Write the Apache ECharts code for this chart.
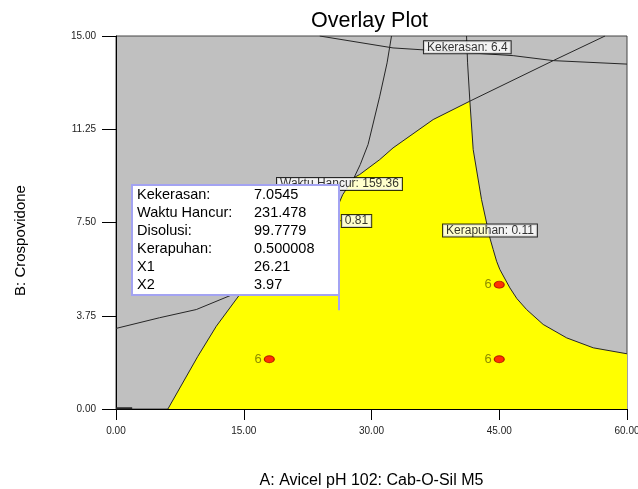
<!DOCTYPE html>
<html>
<head>
<meta charset="utf-8">
<script src="https://cdn.jsdelivr.net/npm/echarts@6/dist/echarts.min.js"></script>
<style>
  html, body { margin: 0; padding: 0; background: #fff; }
  #chart { width: 638px; height: 489px; }
</style>
</head>
<body>
<div id="chart"></div>
<script>
const FONT = "'Liberation Sans', Arial, sans-serif";

// Axis ranges and ticks (A: Avicel pH 102 : Cab-O-Sil M5, B: Crospovidone)
const xTicks = [0, 15, 30, 45, 60];
const yTicks = [0, 3.75, 7.5, 11.25, 15];

// Contour lines, points given as [A, B]
const kekerasanLine = [
  [23.92, 15.0], [32.53, 14.52], [46.64, 14.21], [51.34, 14.01], [60, 13.87]
];
const kerapuhanLine = [
  [41.16, 15.0], [41.28, 13.92], [41.55, 12.38], [41.94, 10.43], [42.92, 8.42],
  [43.90, 6.88], [44.29, 6.41], [44.69, 5.94], [45.07, 5.61], [46.25, 4.87],
  [47.07, 4.44], [48.21, 4.00], [50.16, 3.40], [52.92, 2.86], [56.04, 2.46], [60, 2.22]
];
const upperBoundLine = [
  [57.42, 15.0], [51.34, 14.01], [41.55, 12.38], [37.24, 11.64], [32.53, 10.50],
  [30.97, 10.03], [28.62, 9.43], [27.96, 9.31]
];
const waktuHancurLine = [
  [32.35, 15.0], [31.83, 13.92], [30.97, 12.58], [29.60, 10.64], [28.68, 9.83],
  [27.96, 9.31], [26.62, 8.62], [26.27, 8.34], [23.92, 7.42], [20.39, 6.21],
  [16.87, 5.29], [14.52, 4.60], [11.78, 3.33], [9.61, 2.12], [6.09, 0]
];
const lowerLeftLine = [
  [0, 3.24], [5.11, 3.67], [9.43, 4.00], [13.54, 4.58], [20.39, 5.81], [26.39, 7.58]
];
const cornerLine = [[0, 0.03], [1.9, 0.03]];

// Region where all responses meet their criteria
const feasibleRegion = [
  [6.09, 0], [60, 0], [60, 2.22], [56.04, 2.46], [52.92, 2.86], [50.16, 3.40],
  [48.21, 4.00], [47.07, 4.44], [46.25, 4.87], [45.07, 5.61], [44.69, 5.94],
  [44.29, 6.41], [43.90, 6.88], [42.92, 8.42], [41.94, 10.43], [41.55, 12.38],
  [37.24, 11.64], [32.53, 10.50], [30.97, 10.03], [28.62, 9.43], [27.96, 9.31],
  [26.62, 8.62], [26.27, 8.34], [23.92, 7.42], [20.39, 6.21], [16.87, 5.29],
  [14.52, 4.60], [11.78, 3.33], [9.61, 2.12]
];

// Contour labels and where they sit on their lines
const contourLabelText = ['Kekerasan: 6.4', 'Waktu Hancur: 159.36', '0.81', 'Kerapuhan: 0.11'];
const contourLabelAt = [[41.25, 14.55], [26.24, 9.05], [28.24, 7.56], [43.91, 7.18]];

// Design points and their replicate counts
const designPoints = [[18, 2], [45, 2], [45, 5]];
const designCounts = [6, 6, 6];

// Flag at the selected optimum
const flagNames = ['Kekerasan:', 'Waktu Hancur:', 'Disolusi:', 'Kerapuhan:', 'X1', 'X2'];
const flagValues = ['7.0545', '231.478', '99.7779', '0.500008', '26.21', '3.97'];
const flagPoint = [26.21, 3.97];

const fmt2 = v => Number(v).toFixed(2);

function contour(data, width) {
  return {
    type: 'line', data: data, symbol: 'none', z: 3, silent: true,
    lineStyle: { color: '#262626', width: width || 1 }
  };
}

const chart = echarts.init(document.getElementById('chart'), null, { renderer: 'canvas' });

chart.setOption({
  animation: false,
  backgroundColor: '#ffffff',
  textStyle: { fontFamily: FONT },
  title: {
    text: 'Overlay Plot', left: 306, top: 5,
    textStyle: { fontSize: 21.5, fontWeight: 'normal', color: '#000', fontFamily: FONT }
  },
  grid: {
    left: 116, right: 11, top: 36, bottom: 80,
    outerBoundsMode: 'none', containLabel: false,
    show: true, backgroundColor: '#c0c0c0', borderColor: '#444', borderWidth: 1
  },
  xAxis: {
    type: 'value', min: xTicks[0], max: xTicks[xTicks.length - 1], interval: xTicks[1] - xTicks[0],
    splitLine: { show: false },
    axisLine: { lineStyle: { color: '#000', width: 1 } },
    axisTick: { length: 11, lineStyle: { color: '#000' } },
    axisLabel: { formatter: fmt2, color: '#222', fontSize: 10, margin: 17, fontFamily: FONT },
    name: 'A: Avicel pH 102: Cab-O-Sil M5', nameLocation: 'middle', nameGap: 64,
    nameTextStyle: { fontSize: 16, color: '#000', fontFamily: FONT }
  },
  yAxis: {
    type: 'value', min: yTicks[0], max: yTicks[yTicks.length - 1], interval: yTicks[1] - yTicks[0],
    splitLine: { show: false },
    axisLine: { lineStyle: { color: '#000', width: 1 } },
    axisTick: { length: 14, lineStyle: { color: '#000' } },
    axisLabel: { formatter: fmt2, color: '#222', fontSize: 10, margin: 20, fontFamily: FONT },
    name: 'B: Crospovidone', nameLocation: 'middle', nameGap: 88,
    nameTextStyle: { fontSize: 15, color: '#000', fontFamily: FONT, padding: [0, 36, 0, 0] }
  },
  series: [
    {
      // yellow feasible region
      type: 'custom', z: 1, silent: true, clip: true,
      data: [feasibleRegion[0]],
      renderItem: function (params, api) {
        const pts = feasibleRegion.map(p => api.coord(p));
        return { type: 'polygon', shape: { points: pts }, style: { fill: '#ffff00', stroke: null } };
      }
    },
    contour(kekerasanLine),
    contour(kerapuhanLine),
    contour(upperBoundLine),
    contour(waktuHancurLine),
    contour(lowerLeftLine),
    contour(cornerLine, 2),
    {
      type: 'scatter', z: 5, silent: true,
      data: designPoints.map((p, i) => ({ value: p, count: designCounts[i] })),
      symbol: 'circle', symbolSize: [10, 7],
      itemStyle: { color: '#ff0000', borderColor: '#a00000', borderWidth: 1 },
      label: {
        show: true, position: 'left', distance: 2,
        formatter: p => String(p.data.count),
        color: '#6e6e00', fontSize: 13, fontFamily: FONT
      }
    },
    {
      type: 'scatter', z: 6, silent: true, symbolSize: 0,
      data: contourLabelAt.map((p, i) => ({ value: p, name: contourLabelText[i] })),
      label: {
        show: true, position: 'inside', formatter: p => p.name,
        color: '#000', fontSize: 12, fontFamily: FONT, lineHeight: 11,
        backgroundColor: '#ffffff', borderColor: '#000', borderWidth: 1, padding: [1, 3, 0, 3]
      }
    },
    {
      // flag box at the optimum
      type: 'custom', z: 10, silent: true, clip: false,
      data: [flagPoint],
      renderItem: function (params, api) {
        const p = api.coord([api.value(0), api.value(1)]);
        const right = Math.round(p[0]);
        const bottom = Math.round(p[1] - 15);
        const w = 207, h = 110;
        const left = right - w, top = bottom - h;
        const children = [
          { type: 'line', shape: { x1: right, y1: bottom, x2: right, y2: p[1] },
            style: { stroke: '#a3a3f2', lineWidth: 2 } },
          { type: 'rect', shape: { x: left, y: top, width: w, height: h },
            style: { fill: '#ffffff', stroke: '#a3a3f2', lineWidth: 2 } }
        ];
        flagNames.forEach((n, i) => {
          const y = top + 10 + i * 18;
          children.push({ type: 'text', x: left + 5, y: y,
            style: { text: n, fill: '#000', font: '14.5px ' + FONT, align: 'left', verticalAlign: 'middle' } });
          children.push({ type: 'text', x: left + 122, y: y,
            style: { text: flagValues[i], fill: '#000', font: '14.5px ' + FONT, align: 'left', verticalAlign: 'middle' } });
        });
        return { type: 'group', children: children };
      }
    }
  ]
});
</script>
</body>
</html>
